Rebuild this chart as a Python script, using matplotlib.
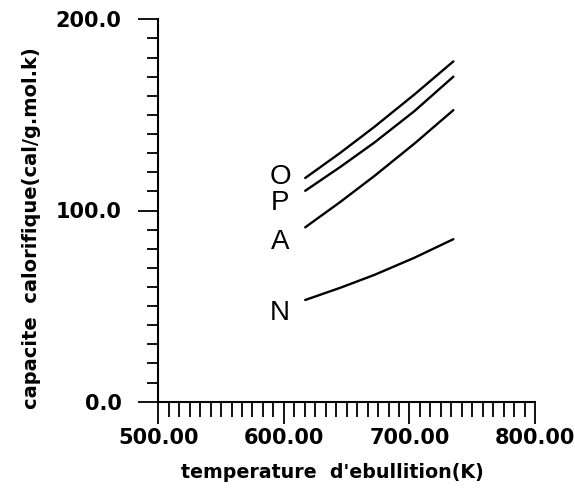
import matplotlib
matplotlib.use("Agg")
import matplotlib.pyplot as plt
import numpy as np

# Data
temp = [617, 645, 672, 704, 735]
series_O = [117.0, 130.2, 143.7, 160.7, 178.0]
series_P = [110.3, 122.8, 135.5, 152.0, 170.0]
series_A = [91.2, 104.5, 118.0, 135.0, 152.5]
series_N = [53.2, 59.6, 66.3, 75.3, 85.0]
labels = ["O", "P", "A", "N"]
label_x = 597
label_y = [117.5, 104.0, 83.5, 46.5]

x_ticks = [500, 600, 700, 800]
x_tick_labels = ["500.00", "600.00", "700.00", "800.00"]
y_ticks = [0, 100, 200]
y_tick_labels = ["0.0", "100.0", "200.0"]

W, H = 575, 488
fig = plt.figure(figsize=(W / 100, H / 100), dpi=100)
ax = fig.add_axes([158.3 / W, 1 - 401.7 / H, (535 - 158.3) / W, (401.7 - 19.3) / H])

for ys in [series_O, series_P, series_A, series_N]:
    ax.plot(temp, ys, color="black", lw=1.7, solid_capstyle="round",
            solid_joinstyle="round")

for lab, ly in zip(labels, label_y):
    ax.text(label_x, ly, lab, fontsize=20, family="Liberation Sans",
            ha="center", va="center", color="black")

ax.set_xlim(500, 800)
ax.set_ylim(0, 200)
for s in ["top", "right"]:
    ax.spines[s].set_visible(False)
for s in ["left", "bottom"]:
    ax.spines[s].set_linewidth(1.5)

ax.set_xticks(x_ticks)
ax.set_xticklabels(x_tick_labels)
ax.set_yticks(y_ticks)
ax.set_yticklabels(y_tick_labels)
ax.set_xticks(np.linspace(500, 800, 37), minor=True)
ax.set_yticks(np.arange(0, 201, 10), minor=True)

ax.tick_params(axis="y", which="major", direction="out", length=14.5, width=1.3, pad=12,
               labelsize=15)
ax.tick_params(axis="y", which="minor", direction="out", length=8, width=1.3)
ax.tick_params(axis="x", which="major", direction="out", length=16, width=1.3, pad=3,
               labelsize=15)
ax.tick_params(axis="x", which="minor", direction="out", length=11, width=1.3)
for t in ax.get_xticklabels() + ax.get_yticklabels():
    t.set_fontweight("bold")

fig.text(32 / W, 1 - 228 / H, "capacite  calorifique(cal/g.mol.k)", rotation=90,
         ha="center", va="center", fontsize=14, fontweight="bold")
fig.text(332 / W, 1 - 472 / H, "temperature  d'ebullition(K)",
         ha="center", va="center", fontsize=13.7, fontweight="bold")

fig.savefig("out.png", dpi=100, facecolor="white")
